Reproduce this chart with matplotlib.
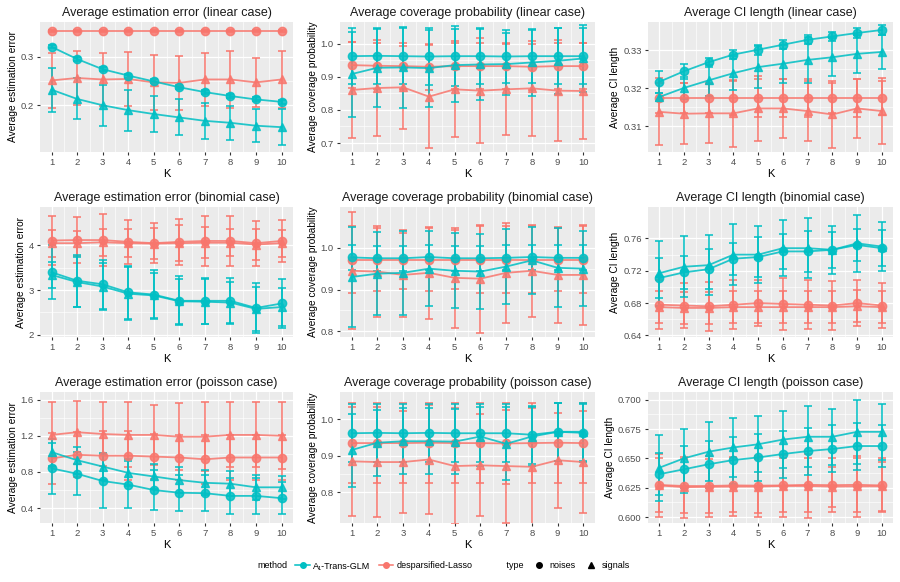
import numpy as np
import matplotlib
matplotlib.use("Agg")
import matplotlib.pyplot as plt
from matplotlib.lines import Line2D

plt.rcParams['font.family'] = ['Liberation Sans', 'DejaVu Sans']

# ======================================
# 1. Data
# ======================================

K = [1, 2, 3, 4, 5, 6, 7, 8, 9, 10]

# --- linear case: estimation error ---
lin_est_tg_noise = [0.320, 0.295, 0.274, 0.261, 0.249, 0.237, 0.227, 0.219, 0.212, 0.207]
lin_est_tg_noise_sd = [0.003, 0.004, 0.004, 0.004, 0.004, 0.004, 0.004, 0.004, 0.004, 0.004]
lin_est_tg_signal = [0.232, 0.213, 0.200, 0.190, 0.182, 0.175, 0.168, 0.164, 0.158, 0.155]
lin_est_tg_signal_sd = [0.045, 0.042, 0.042, 0.042, 0.037, 0.037, 0.037, 0.035, 0.034, 0.037]
lin_est_dl_noise = [0.352, 0.352, 0.352, 0.352, 0.352, 0.352, 0.352, 0.352, 0.352, 0.352]
lin_est_dl_noise_sd = [0.002, 0.002, 0.002, 0.002, 0.002, 0.002, 0.002, 0.002, 0.002, 0.002]
lin_est_dl_signal = [0.251, 0.256, 0.253, 0.254, 0.247, 0.246, 0.253, 0.253, 0.247, 0.253]
lin_est_dl_signal_sd = [0.057, 0.055, 0.055, 0.055, 0.057, 0.055, 0.055, 0.058, 0.050, 0.058]

# --- linear case: coverage probability ---
lin_cov_tg_noise = [0.962, 0.963, 0.962, 0.961, 0.962, 0.962, 0.961, 0.962, 0.962, 0.962]
lin_cov_tg_noise_sd = [0.085, 0.085, 0.085, 0.085, 0.090, 0.085, 0.080, 0.080, 0.085, 0.085]
lin_cov_tg_signal = [0.908, 0.927, 0.928, 0.926, 0.935, 0.937, 0.938, 0.943, 0.948, 0.955]
lin_cov_tg_signal_sd = [0.128, 0.117, 0.123, 0.116, 0.110, 0.107, 0.093, 0.100, 0.100, 0.100]
lin_cov_dl_noise = [0.935, 0.933, 0.932, 0.930, 0.932, 0.932, 0.932, 0.930, 0.932, 0.932]
lin_cov_dl_noise_sd = [0.070, 0.070, 0.070, 0.070, 0.070, 0.070, 0.070, 0.070, 0.070, 0.070]
lin_cov_dl_signal = [0.860, 0.866, 0.868, 0.840, 0.862, 0.858, 0.862, 0.865, 0.858, 0.857]
lin_cov_dl_signal_sd = [0.145, 0.145, 0.125, 0.155, 0.145, 0.158, 0.138, 0.143, 0.152, 0.145]

# --- linear case: CI length ---
lin_ci_tg_noise = [0.3217, 0.3245, 0.3269, 0.3289, 0.3302, 0.3315, 0.3328, 0.3337, 0.3346, 0.3354]
lin_ci_tg_noise_sd = [0.0030, 0.0020, 0.0012, 0.0012, 0.0013, 0.0012, 0.0012, 0.0012, 0.0012, 0.0012]
lin_ci_tg_signal = [0.3177, 0.3201, 0.3221, 0.3240, 0.3256, 0.3265, 0.3275, 0.3282, 0.3291, 0.3296]
lin_ci_tg_signal_sd = [0.0010, 0.0030, 0.0040, 0.0045, 0.0055, 0.0050, 0.0060, 0.0050, 0.0050, 0.0045]
lin_ci_dl_noise = [0.3175, 0.3175, 0.3175, 0.3175, 0.3175, 0.3175, 0.3175, 0.3175, 0.3175, 0.3175]
lin_ci_dl_noise_sd = [0.0040, 0.0040, 0.0040, 0.0045, 0.0050, 0.0050, 0.0050, 0.0040, 0.0050, 0.0045]
lin_ci_dl_signal = [0.3138, 0.3133, 0.3134, 0.3134, 0.3147, 0.3147, 0.3140, 0.3131, 0.3147, 0.3140]
lin_ci_dl_signal_sd = [0.0088, 0.0080, 0.0078, 0.0088, 0.0085, 0.0078, 0.0080, 0.0088, 0.0078, 0.0088]

# --- binomial case: estimation error ---
bin_est_tg_noise = [3.40, 3.21, 3.13, 2.95, 2.90, 2.76, 2.76, 2.76, 2.60, 2.70]
bin_est_tg_noise_sd = [0.60, 0.58, 0.55, 0.60, 0.55, 0.55, 0.52, 0.52, 0.55, 0.55]
bin_est_tg_signal = [3.34, 3.18, 3.08, 2.92, 2.88, 2.75, 2.74, 2.72, 2.58, 2.62]
bin_est_tg_signal_sd = [0.30, 0.55, 0.52, 0.60, 0.50, 0.50, 0.50, 0.45, 0.50, 0.42]
bin_est_dl_noise = [4.11, 4.12, 4.12, 4.08, 4.05, 4.08, 4.10, 4.10, 4.05, 4.10]
bin_est_dl_noise_sd = [0.55, 0.52, 0.58, 0.50, 0.45, 0.52, 0.55, 0.55, 0.50, 0.48]
bin_est_dl_signal = [4.05, 4.05, 4.07, 4.05, 4.04, 4.05, 4.06, 4.06, 4.02, 4.05]
bin_est_dl_signal_sd = [0.30, 0.28, 0.30, 0.32, 0.35, 0.40, 0.35, 0.30, 0.35, 0.30]

# --- binomial case: coverage probability ---
bin_cov_tg_noise = [0.977, 0.975, 0.975, 0.978, 0.975, 0.975, 0.976, 0.978, 0.976, 0.976]
bin_cov_tg_noise_sd = [0.030, 0.030, 0.030, 0.030, 0.030, 0.030, 0.030, 0.030, 0.030, 0.030]
bin_cov_tg_signal = [0.930, 0.938, 0.940, 0.950, 0.945, 0.943, 0.955, 0.970, 0.952, 0.950]
bin_cov_tg_signal_sd = [0.120, 0.100, 0.100, 0.090, 0.090, 0.090, 0.090, 0.080, 0.095, 0.090]
bin_cov_dl_noise = [0.972, 0.972, 0.972, 0.972, 0.972, 0.972, 0.972, 0.972, 0.972, 0.972]
bin_cov_dl_noise_sd = [0.080, 0.075, 0.070, 0.075, 0.070, 0.080, 0.080, 0.080, 0.075, 0.080]
bin_cov_dl_signal = [0.945, 0.943, 0.935, 0.940, 0.928, 0.926, 0.940, 0.945, 0.935, 0.935]
bin_cov_dl_signal_sd = [0.140, 0.110, 0.100, 0.110, 0.120, 0.130, 0.120, 0.110, 0.115, 0.120]

# --- binomial case: CI length ---
bin_ci_tg_noise = [0.711, 0.718, 0.722, 0.735, 0.737, 0.744, 0.744, 0.746, 0.752, 0.748]
bin_ci_tg_noise_sd = [0.025, 0.020, 0.025, 0.020, 0.025, 0.022, 0.025, 0.022, 0.020, 0.022]
bin_ci_tg_signal = [0.717, 0.725, 0.727, 0.740, 0.740, 0.748, 0.748, 0.746, 0.754, 0.750]
bin_ci_tg_signal_sd = [0.040, 0.038, 0.037, 0.038, 0.035, 0.035, 0.037, 0.030, 0.035, 0.030]
bin_ci_dl_noise = [0.678, 0.677, 0.676, 0.678, 0.680, 0.679, 0.678, 0.677, 0.680, 0.677]
bin_ci_dl_noise_sd = [0.030, 0.028, 0.030, 0.030, 0.028, 0.032, 0.030, 0.030, 0.028, 0.028]
bin_ci_dl_signal = [0.675, 0.674, 0.674, 0.675, 0.675, 0.675, 0.675, 0.675, 0.676, 0.675]
bin_ci_dl_signal_sd = [0.020, 0.020, 0.020, 0.020, 0.020, 0.020, 0.020, 0.020, 0.020, 0.020]

# --- poisson case: estimation error ---
poi_est_tg_noise = [0.84, 0.78, 0.70, 0.66, 0.60, 0.57, 0.565, 0.535, 0.535, 0.51]
poi_est_tg_noise_sd = [0.28, 0.24, 0.30, 0.26, 0.22, 0.20, 0.20, 0.20, 0.20, 0.18]
poi_est_tg_signal = [1.02, 0.93, 0.86, 0.79, 0.75, 0.71, 0.68, 0.67, 0.63, 0.63]
poi_est_tg_signal_sd = [0.15, 0.15, 0.15, 0.15, 0.14, 0.14, 0.14, 0.14, 0.14, 0.13]
poi_est_dl_noise = [0.95, 0.99, 0.98, 0.98, 0.97, 0.96, 0.94, 0.96, 0.96, 0.96]
poi_est_dl_noise_sd = [0.28, 0.25, 0.27, 0.27, 0.25, 0.25, 0.27, 0.25, 0.25, 0.25]
poi_est_dl_signal = [1.21, 1.24, 1.22, 1.21, 1.21, 1.19, 1.19, 1.21, 1.21, 1.20]
poi_est_dl_signal_sd = [0.36, 0.35, 0.35, 0.36, 0.33, 0.37, 0.38, 0.36, 0.36, 0.37]

# --- poisson case: coverage probability ---
poi_cov_tg_noise = [0.962, 0.963, 0.962, 0.963, 0.962, 0.962, 0.962, 0.958, 0.966, 0.963]
poi_cov_tg_noise_sd = [0.080, 0.080, 0.080, 0.080, 0.080, 0.080, 0.080, 0.080, 0.080, 0.080]
poi_cov_tg_signal = [0.916, 0.936, 0.940, 0.940, 0.939, 0.953, 0.933, 0.953, 0.966, 0.966]
poi_cov_tg_signal_sd = [0.100, 0.090, 0.090, 0.090, 0.090, 0.080, 0.100, 0.080, 0.080, 0.080]
poi_cov_dl_noise = [0.935, 0.935, 0.935, 0.936, 0.935, 0.935, 0.934, 0.935, 0.936, 0.935]
poi_cov_dl_noise_sd = [0.110, 0.110, 0.110, 0.110, 0.110, 0.110, 0.110, 0.110, 0.110, 0.110]
poi_cov_dl_signal = [0.885, 0.883, 0.883, 0.890, 0.872, 0.874, 0.872, 0.870, 0.888, 0.883]
poi_cov_dl_signal_sd = [0.150, 0.150, 0.140, 0.150, 0.160, 0.140, 0.155, 0.160, 0.130, 0.140]

# --- poisson case: CI length ---
poi_ci_tg_noise = [0.6365, 0.6407, 0.6450, 0.6486, 0.6508, 0.6537, 0.6562, 0.6580, 0.6605, 0.6605]
poi_ci_tg_noise_sd = [0.018, 0.020, 0.020, 0.020, 0.020, 0.020, 0.020, 0.020, 0.020, 0.018]
poi_ci_tg_signal = [0.6420, 0.6500, 0.6557, 0.6593, 0.6620, 0.6660, 0.6684, 0.6684, 0.6726, 0.6726]
poi_ci_tg_signal_sd = [0.028, 0.025, 0.025, 0.025, 0.024, 0.024, 0.026, 0.024, 0.027, 0.024]
poi_ci_dl_noise = [0.6274, 0.6265, 0.6265, 0.6270, 0.6268, 0.6270, 0.6275, 0.6272, 0.6275, 0.6270]
poi_ci_dl_noise_sd = [0.023, 0.023, 0.023, 0.023, 0.023, 0.023, 0.023, 0.023, 0.023, 0.023]
poi_ci_dl_signal = [0.6270, 0.6255, 0.6258, 0.6260, 0.6260, 0.6265, 0.6265, 0.6260, 0.6262, 0.6262]
poi_ci_dl_signal_sd = [0.027, 0.026, 0.026, 0.025, 0.026, 0.026, 0.027, 0.017, 0.026, 0.021]

# ======================================
# 2. Panel setup
# ======================================

TEAL = '#00BFC4'
RED = '#F8766D'

panels = [
    ("Average estimation error (linear case)", "Average estimation error",
     (lin_est_tg_noise, lin_est_tg_noise_sd, lin_est_tg_signal, lin_est_tg_signal_sd,
      lin_est_dl_noise, lin_est_dl_noise_sd, lin_est_dl_signal, lin_est_dl_signal_sd),
     (0.104, 0.371), [0.2, 0.3], '{:.1f}'),
    ("Average coverage probability (linear case)", "Average coverage probability",
     (lin_cov_tg_noise, lin_cov_tg_noise_sd, lin_cov_tg_signal, lin_cov_tg_signal_sd,
      lin_cov_dl_noise, lin_cov_dl_noise_sd, lin_cov_dl_signal, lin_cov_dl_signal_sd),
     (0.673, 1.065), [0.7, 0.8, 0.9, 1.0], '{:.1f}'),
    ("Average CI length (linear case)", "Average CI length",
     (lin_ci_tg_noise, lin_ci_tg_noise_sd, lin_ci_tg_signal, lin_ci_tg_signal_sd,
      lin_ci_dl_noise, lin_ci_dl_noise_sd, lin_ci_dl_signal, lin_ci_dl_signal_sd),
     (0.3032, 0.3375), [0.31, 0.32, 0.33], '{:.2f}'),
    ("Average estimation error (binomial case)", "Average estimation error",
     (bin_est_tg_noise, bin_est_tg_noise_sd, bin_est_tg_signal, bin_est_tg_signal_sd,
      bin_est_dl_noise, bin_est_dl_noise_sd, bin_est_dl_signal, bin_est_dl_signal_sd),
     (1.95, 4.86), [2, 3, 4], '{:.0f}'),
    ("Average coverage probability (binomial case)", "Average coverage probability",
     (bin_cov_tg_noise, bin_cov_tg_noise_sd, bin_cov_tg_signal, bin_cov_tg_signal_sd,
      bin_cov_dl_noise, bin_cov_dl_noise_sd, bin_cov_dl_signal, bin_cov_dl_signal_sd),
     (0.786, 1.098), [0.8, 0.9, 1.0], '{:.1f}'),
    ("Average CI length (binomial case)", "Average CI length",
     (bin_ci_tg_noise, bin_ci_tg_noise_sd, bin_ci_tg_signal, bin_ci_tg_signal_sd,
      bin_ci_dl_noise, bin_ci_dl_noise_sd, bin_ci_dl_signal, bin_ci_dl_signal_sd),
     (0.638, 0.799), [0.64, 0.68, 0.72, 0.76], '{:.2f}'),
    ("Average estimation error (poisson case)", "Average estimation error",
     (poi_est_tg_noise, poi_est_tg_noise_sd, poi_est_tg_signal, poi_est_tg_signal_sd,
      poi_est_dl_noise, poi_est_dl_noise_sd, poi_est_dl_signal, poi_est_dl_signal_sd),
     (0.235, 1.685), [0.4, 0.8, 1.2, 1.6], '{:.1f}'),
    ("Average coverage probability (poisson case)", "Average coverage probability",
     (poi_cov_tg_noise, poi_cov_tg_noise_sd, poi_cov_tg_signal, poi_cov_tg_signal_sd,
      poi_cov_dl_noise, poi_cov_dl_noise_sd, poi_cov_dl_signal, poi_cov_dl_signal_sd),
     (0.716, 1.075), [0.8, 0.9, 1.0], '{:.1f}'),
    ("Average CI length (poisson case)", "Average CI length",
     (poi_ci_tg_noise, poi_ci_tg_noise_sd, poi_ci_tg_signal, poi_ci_tg_signal_sd,
      poi_ci_dl_noise, poi_ci_dl_noise_sd, poi_ci_dl_signal, poi_ci_dl_signal_sd),
     (0.595, 0.7065), [0.600, 0.625, 0.650, 0.675, 0.700], '{:.3f}'),
]

# panel rectangles in pixels: left/right per column, top/bottom per row
W, H = 900, 582
col_x = [(40, 293), (340, 595), (648, 893)]
row_y = [(22, 152), (207, 337), (392, 523)]

fig = plt.figure(figsize=(9, 5.82), dpi=100)

for i, (title, ylabel, series, ylim, yticks, fmt) in enumerate(panels):
    r, c = divmod(i, 3)
    x0, x1 = col_x[c]
    y0, y1 = row_y[r]
    ax = fig.add_axes([x0 / W, 1 - y1 / H, (x1 - x0) / W, (y1 - y0) / H])
    ax.set_facecolor('#EBEBEB')

    tg_n, tg_n_sd, tg_s, tg_s_sd, dl_n, dl_n_sd, dl_s, dl_s_sd = series
    for mean, sd, col, mk in [(dl_n, dl_n_sd, RED, 'o'), (dl_s, dl_s_sd, RED, '^'),
                              (tg_n, tg_n_sd, TEAL, 'o'), (tg_s, tg_s_sd, TEAL, '^')]:
        ax.errorbar(K, mean, yerr=sd, color=col, ecolor=col, elinewidth=1.3,
                    capsize=2.8, capthick=1.3, lw=1.3, marker=mk, ms=6,
                    alpha=0.85, zorder=3)

    ax.set_xlim(0.55, 10.45)
    ax.set_ylim(*ylim)
    ax.set_xticks(K)
    ax.set_xticks(np.arange(1.5, 10, 1), minor=True)
    ax.set_yticks(yticks)
    ax.set_yticklabels([fmt.format(v) for v in yticks])
    ymin_t = [(a + b) / 2 for a, b in zip(yticks[:-1], yticks[1:])]
    ax.set_yticks(ymin_t, minor=True)
    ax.grid(which='major', color='white', lw=0.9)
    ax.grid(which='minor', color='white', lw=0.45)
    ax.set_axisbelow(True)
    for s in ax.spines.values():
        s.set_visible(False)
    ax.tick_params(which='major', length=2.5, width=0.8, color='#333333',
                   labelsize=6.8, labelcolor='#4D4D4D', pad=2)
    ax.tick_params(which='minor', length=0)
    ax.set_title(title, fontsize=9, color='#1A1A1A', pad=4)
    ax.set_xlabel('K', fontsize=8, labelpad=1)
    ax.set_ylabel(ylabel, fontsize=7.3, labelpad=2)

# ======================================
# 3. Legend
# ======================================

handles = [
    Line2D([], [], color='none', label='method'),
    Line2D([], [], color=TEAL, marker='o', ms=4, lw=1.1, label='A\u2081-Trans-GLM'),
    Line2D([], [], color=RED, marker='o', ms=4, lw=1.1, label='desparsified-Lasso'),
    Line2D([], [], color='none', label='   type'),
    Line2D([], [], color='black', marker='o', ms=4, lw=0, label='noises'),
    Line2D([], [], color='black', marker='^', ms=4, lw=0, label='signals'),
]
fig.legend(handles=handles, loc='center', bbox_to_anchor=(0.483, 1 - 566 / H),
           ncol=6, frameon=False, fontsize=6.5, handlelength=1.6,
           handletextpad=0.4, columnspacing=0.9)

fig.savefig('out.png', dpi=100)
